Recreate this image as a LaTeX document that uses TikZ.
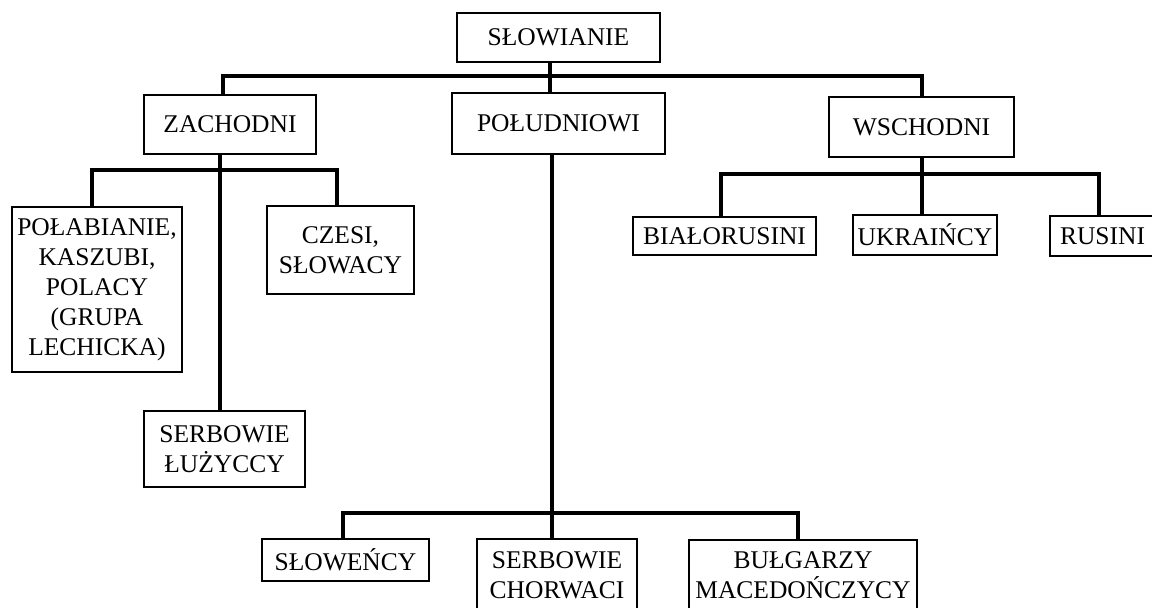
\documentclass[tikz,border=0pt]{standalone}
\usepackage{fontspec}
\setmainfont{Liberation Serif}
\usetikzlibrary{positioning}
\usetikzlibrary{calc}

\begin{document}
\begin{tikzpicture}[
 x=0.5pt, y=-0.5pt,
 people/.style={rectangle, draw=black, line width=0.6pt, inner sep=1pt, align=center, font=\fontsize{12.75}{15}\selectfont},
 branch/.style={line width=2pt}
]
\useasboundingbox (0,0) rectangle (1152,607);
\clip (0,0) rectangle (1152,607);

% Root
\node[people, minimum width=101.5pt, minimum height=24.5pt] (slow) at (558.5,37.5) {SŁOWIANIE};

% Main groups
\node[people, minimum width=86pt, minimum height=29.5pt] (zach) at (230,124.5) {ZACHODNI};
\node[people, minimum width=106.5pt, minimum height=30.5pt] (pold) at (558.5,123.5) {POŁUDNIOWI};
\node[people, minimum width=92.5pt, minimum height=30pt] (wsch) at (921.5,127) {WSCHODNI};

% West Slavs
\node[people, minimum width=85pt, minimum height=82.5pt] (polab) at (97,289.5) {POŁABIANIE,\\KASZUBI,\\POLACY\\(GRUPA\\LECHICKA)};
\node[people, minimum width=73.5pt, minimum height=44pt] (czesi) at (340.5,250) {CZESI,\\SŁOWACY};
\node[people, minimum width=80.5pt, minimum height=38pt] (serbl) at (224.5,449) {SERBOWIE\\ŁUŻYCCY};

% East Slavs
\node[people, minimum width=91.5pt, minimum height=19pt] (bialo) at (724.5,236) {BIAŁORUSINI};
\node[people, minimum width=72pt, minimum height=20pt] (ukr) at (925,235) {UKRAIŃCY};
\node[people, minimum width=52.5pt, minimum height=20pt] (rusini) at (1102.5,236) {RUSINI};

% South Slavs
\node[people, minimum width=83.5pt, minimum height=21pt] (slowen) at (345.5,560) {SŁOWEŃCY};
\node[people, minimum width=80pt, minimum height=36pt] (serbc) at (557,575) {SERBOWIE\\CHORWACI};
\node[people, minimum width=114pt, minimum height=35.5pt] (bulg) at (803,575.5) {BUŁGARZY\\MACEDOŃCZYCY};

% Top level branches
\coordinate (topbar) at (550,76);
\draw[branch] ([xshift=-3.5pt]zach.north) |- (topbar) -| (wsch.north);
\draw[branch] (slow.south -| topbar) -- (pold.north -| topbar);

% West branches
\coordinate (westbar) at (220,170);
\draw[branch] ([xshift=-2.5pt]polab.north) |- (westbar) -| ([xshift=-1.75pt]czesi.north);
\draw[branch] (zach.south -| westbar) -- (serbl.north -| westbar);

% East branches
\coordinate (eastbar) at (922,174);
\draw[branch] ([xshift=-1.75pt]bialo.north) |- (eastbar) -| ([xshift=-1.75pt]rusini.north);
\draw[branch] (wsch.south -| eastbar) -- (ukr.north -| eastbar);

% South branches
\coordinate (southbar) at (552,513);
\draw[branch] ([xshift=-1.25pt]slowen.north) |- (southbar) -| ([xshift=-2.5pt]bulg.north);
\draw[branch] (pold.south -| southbar) -- (serbc.north -| southbar);
\end{tikzpicture}
\end{document}
